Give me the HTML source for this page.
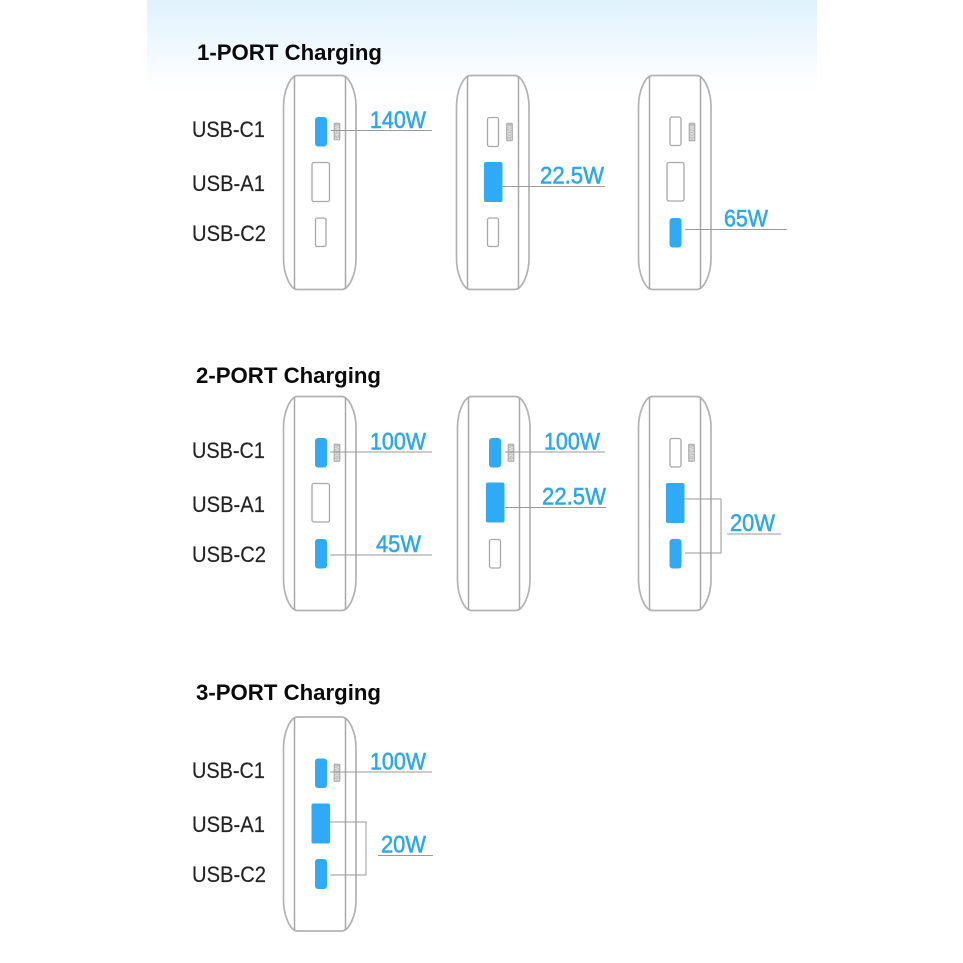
<!DOCTYPE html>
<html><head><meta charset="utf-8">
<style>
html,body{margin:0;padding:0;background:#fff;width:963px;height:963px;overflow:hidden}
svg{display:block;filter:blur(.3px)}
.t{font-family:"Liberation Sans",sans-serif;font-weight:bold;font-size:22.500px;fill:#0a0a0a}
.u{font-family:"Liberation Sans",sans-serif;font-size:22.500px;fill:#222;stroke:#222;stroke-width:.15}
.w{font-family:"Liberation Sans",sans-serif;font-size:24px;fill:#2ea7e9;stroke:#2ea7e9;stroke-width:.55}
.b{fill:#fff;stroke:#b2b2b2;stroke-width:1.7}
.i{stroke:#a8a8a8;stroke-width:1.5;fill:none}
.p{fill:#fff;stroke:#a8a8a8;stroke-width:1.3}
.o{fill:#2eaaf6}
.l{stroke:#9a9a9a;stroke-width:1;fill:none}
.g{fill:#bdbdbd;stroke:#9c9c9c;stroke-width:.6}
.m{font-family:"Liberation Sans",sans-serif;font-size:5.500px;fill:#f4f4f4}
</style></head><body>
<svg width="963" height="963" viewBox="0 0 963 963" xmlns="http://www.w3.org/2000/svg">
<defs>
<linearGradient id="bg" x1="0" y1="0" x2="0" y2="1">
<stop offset="0" stop-color="#e0f2fd"/><stop offset=".45" stop-color="#eef8fe"/><stop offset=".8" stop-color="#fbfdff"/><stop offset="1" stop-color="#fff"/>
</linearGradient>
<g id="body">
<path class="b" d="M14 0H58C66 0 72.500 16 72.500 31V183C72.500 198 66 214 58 214H14C6.500 214 0 198 0 183V31C0 16 6.500 0 14 0Z"/>
<path class="i" d="M11 .5V213.500M62 .5V213.500"/>
</g>
</defs>
<rect x="0" y="0" width="963" height="963" fill="#fff"/>
<rect x="147" y="0" width="670" height="95" fill="url(#bg)"/>

<use href="#body" x="283.500" y="75.500"/>
<use href="#body" x="456.500" y="75.500"/>
<use href="#body" x="638.500" y="75.500"/>
<use href="#body" x="283.500" y="396.500"/>
<use href="#body" x="457.500" y="396.500"/>
<use href="#body" x="638.500" y="396.500"/>
<use href="#body" x="283.500" y="717"/>

<text class="t" x="197" y="60" textLength="185" lengthAdjust="spacingAndGlyphs">1-PORT Charging</text>
<text class="t" x="196" y="383" textLength="185" lengthAdjust="spacingAndGlyphs">2-PORT Charging</text>
<text class="t" x="196" y="700" textLength="185" lengthAdjust="spacingAndGlyphs">3-PORT Charging</text>

<text class="u" x="192" y="137" textLength="73" lengthAdjust="spacingAndGlyphs">USB-C1</text>
<text class="u" x="192" y="191" textLength="73" lengthAdjust="spacingAndGlyphs">USB-A1</text>
<text class="u" x="192" y="241" textLength="74" lengthAdjust="spacingAndGlyphs">USB-C2</text>
<text class="u" x="192" y="458" textLength="73" lengthAdjust="spacingAndGlyphs">USB-C1</text>
<text class="u" x="192" y="512" textLength="73" lengthAdjust="spacingAndGlyphs">USB-A1</text>
<text class="u" x="192" y="562" textLength="74" lengthAdjust="spacingAndGlyphs">USB-C2</text>
<text class="u" x="192" y="778" textLength="73" lengthAdjust="spacingAndGlyphs">USB-C1</text>
<text class="u" x="192" y="832" textLength="73" lengthAdjust="spacingAndGlyphs">USB-A1</text>
<text class="u" x="192" y="882" textLength="74" lengthAdjust="spacingAndGlyphs">USB-C2</text>

<!-- row 1 body 1 -->
<rect class="o" x="315" y="117" width="12" height="29.500" rx="3"/>
<rect class="g" x="334" y="123" width="6" height="17" rx="1"/>
<text class="m" transform="translate(339 140) rotate(-90)" textLength="15">140W</text>
<rect class="p" x="312" y="162.500" width="17.500" height="39" rx="2"/>
<rect class="p" x="315.500" y="218" width="10.500" height="28.500" rx="2"/>
<path class="l" d="M331 130.500H432"/>
<text class="w" x="370" y="128" textLength="56" lengthAdjust="spacingAndGlyphs">140W</text>

<!-- row 1 body 2 -->
<rect class="p" x="487.500" y="117.500" width="11" height="29" rx="2"/>
<rect class="g" x="506.500" y="123" width="6" height="18" rx="1"/>
<text class="m" transform="translate(511.500 140.500) rotate(-90)" textLength="15">100W</text>
<rect class="o" x="484" y="162" width="18.500" height="40" rx="2"/>
<rect class="p" x="487.500" y="218" width="11" height="28.500" rx="2"/>
<path class="l" d="M503 186.500H605"/>
<text class="w" x="540" y="183.500" textLength="64" lengthAdjust="spacingAndGlyphs">22.5W</text>

<!-- row 1 body 3 -->
<rect class="p" x="670" y="117" width="11" height="28.500" rx="2"/>
<rect class="g" x="689" y="123" width="6" height="18" rx="1"/>
<text class="m" transform="translate(694 140.500) rotate(-90)" textLength="15">100W</text>
<rect class="p" x="667" y="162.500" width="17" height="38.500" rx="2"/>
<rect class="o" x="669.500" y="218" width="12" height="29.500" rx="3"/>
<path class="l" d="M685 229.500H787"/>
<text class="w" x="724" y="226.500" textLength="44" lengthAdjust="spacingAndGlyphs">65W</text>

<!-- row 2 body 1 -->
<rect class="o" x="315" y="438" width="12" height="29.500" rx="3"/>
<rect class="g" x="334" y="444" width="6" height="17.500" rx="1"/>
<text class="m" transform="translate(339 461) rotate(-90)" textLength="15">100W</text>
<rect class="p" x="312" y="483.500" width="17.500" height="38.500" rx="2"/>
<rect class="o" x="315" y="539" width="12" height="29.500" rx="3"/>
<path class="l" d="M330 452H432M330 555H432"/>
<text class="w" x="370" y="449.500" textLength="56" lengthAdjust="spacingAndGlyphs">100W</text>
<text class="w" x="376" y="552" textLength="45" lengthAdjust="spacingAndGlyphs">45W</text>

<!-- row 2 body 2 -->
<rect class="o" x="489" y="438" width="12" height="29.500" rx="3"/>
<rect class="g" x="508" y="444" width="6" height="17.500" rx="1"/>
<text class="m" transform="translate(513 461) rotate(-90)" textLength="15">100W</text>
<rect class="o" x="486" y="482.500" width="18.500" height="40" rx="2"/>
<rect class="p" x="489.500" y="539.500" width="11" height="28.500" rx="2"/>
<path class="l" d="M505 452H605M505 507.500H606"/>
<text class="w" x="544" y="449.500" textLength="56" lengthAdjust="spacingAndGlyphs">100W</text>
<text class="w" x="542" y="504.500" textLength="64" lengthAdjust="spacingAndGlyphs">22.5W</text>

<!-- row 2 body 3 -->
<rect class="p" x="670" y="438.500" width="11" height="28.500" rx="2"/>
<rect class="g" x="688.500" y="444" width="6" height="17.500" rx="1"/>
<text class="m" transform="translate(693.500 461) rotate(-90)" textLength="15">100W</text>
<rect class="o" x="666" y="483" width="18.500" height="40" rx="2"/>
<rect class="o" x="669.500" y="539" width="12" height="29.500" rx="3"/>
<path class="l" d="M684 499H721V553H685"/>
<path class="l" d="M727 534H781" stroke-width="1.300"/>
<text class="w" x="730" y="531" textLength="45" lengthAdjust="spacingAndGlyphs">20W</text>

<!-- row 3 -->
<rect class="o" x="315" y="758.500" width="12" height="29.500" rx="3"/>
<rect class="g" x="334" y="764" width="6" height="17.500" rx="1"/>
<text class="m" transform="translate(339 781) rotate(-90)" textLength="15">100W</text>
<rect class="o" x="311.500" y="803.500" width="18.500" height="40" rx="2"/>
<rect class="o" x="315" y="859" width="12" height="30" rx="3"/>
<path class="l" d="M330 772H432"/>
<path class="l" d="M330 822H366V875H330"/>
<path class="l" d="M378 855.500H433"/>
<text class="w" x="370" y="769.500" textLength="56" lengthAdjust="spacingAndGlyphs">100W</text>
<text class="w" x="381" y="852.500" textLength="45" lengthAdjust="spacingAndGlyphs">20W</text>
</svg>
</body></html>
